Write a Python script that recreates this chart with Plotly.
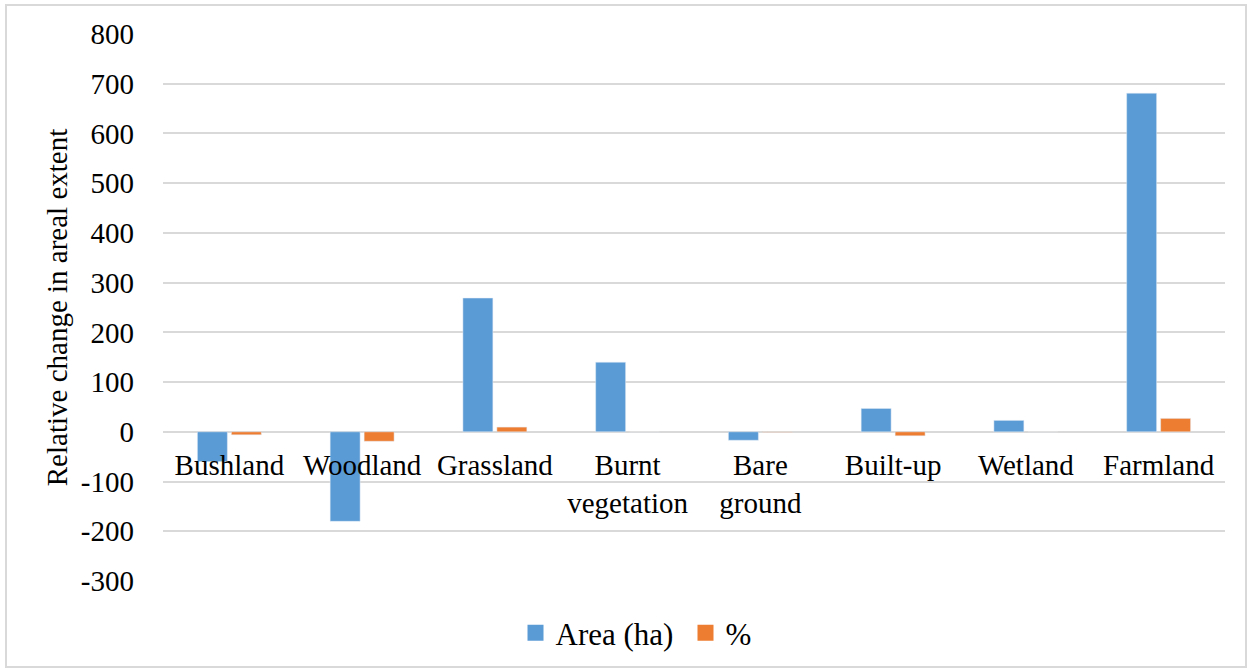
import plotly.graph_objects as go

categories = ["Bushland", "Woodland", "Grassland", "Burnt<br>vegetation", "Bare<br>ground",
              "Built-up", "Wetland", "Farmland"]
area_ha = [-60, -180, 269, 140, -17, 47, 23, 681]
percent = [-6, -19, 9.5, 0.3, -1, -8, 0.3, 27]
y_ticks = [800, 700, 600, 500, 400, 300, 200, 100, 0, -100, -200, -300]
series_names = ["Area (ha)", "%"]
series_colors = ["#5B9BD5", "#ED7D31"]

FONT = "Times New Roman, Liberation Serif, serif"
fig = go.Figure()
for name, vals, col in zip(series_names, [area_ha, percent], series_colors):
    fig.add_bar(x=categories, y=vals, name=name, marker_color=col, showlegend=False)
# legend entries with larger square swatches
for name, col in zip(series_names, series_colors):
    fig.add_scatter(x=[None], y=[None], mode="markers", name=name,
                    marker=dict(symbol="square", size=16, color=col))

ymin, ymax = -300, 800
fig.update_layout(
    width=1250, height=672,
    margin=dict(l=163, r=25, t=34, b=91, autoexpand=False),
    paper_bgcolor="white", plot_bgcolor="white",
    barmode="group", bargap=0.488, bargroupgap=0.118,
    font=dict(family=FONT, size=29, color="#000000"),
    legend=dict(orientation="h", x=0.492, xanchor="center", y=-0.046, yanchor="top",
                font=dict(family=FONT, size=31), itemwidth=30, traceorder="normal",
                entrywidth=125, entrywidthmode="pixels"),
    xaxis=dict(anchor="free", position=(0 - ymin) / (ymax - ymin), showline=False,
               ticks="", showgrid=False, tickfont=dict(family=FONT, size=29),
               zeroline=False, ticklabelstandoff=13, automargin=False),
    yaxis=dict(range=[ymin, ymax], tickvals=y_ticks, ticktext=[str(v) for v in y_ticks],
               showgrid=True, gridcolor="#D9D9D9", gridwidth=2, zeroline=True,
               zerolinecolor="#D9D9D9", zerolinewidth=2, showline=False, automargin=False,
               ticks="", ticklabelstandoff=28, tickfont=dict(family=FONT, size=29),
               title=dict(text="Relative change in areal extent",
                          font=dict(family=FONT, size=29), standoff=4)),
    shapes=[dict(type="rect", xref="paper", yref="paper",
                 x0=(6 - 163) / 1062, x1=(1246 - 163) / 1062,
                 y0=-(667 - 581) / 547, y1=1 + (34 - 5) / 547,
                 line=dict(color="#D9D9D9", width=2), layer="below")],
)
fig.write_html("out.html")
